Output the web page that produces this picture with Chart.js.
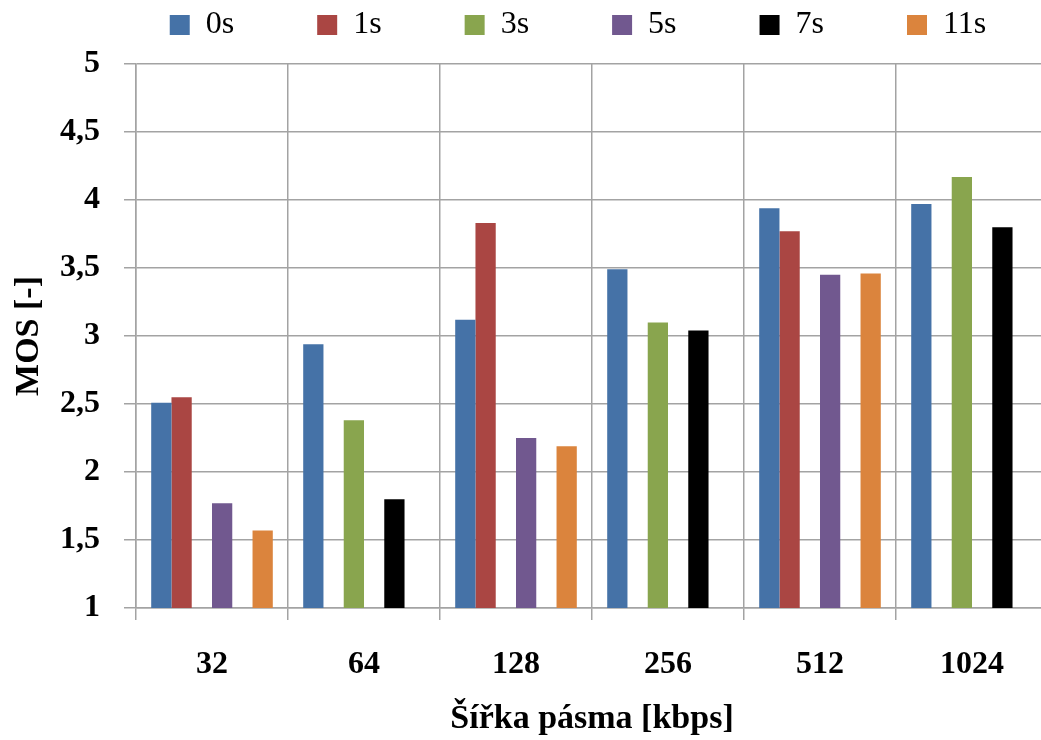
<!DOCTYPE html>
<html>
<head>
<meta charset="utf-8">
<script src="https://cdn.jsdelivr.net/npm/chart.js@4/dist/chart.umd.min.js"></script>
<style>
  html, body { margin: 0; padding: 0; background: #fff; overflow: hidden; }
  #wrap { width: 1100px; height: 740px; }
  canvas { display: block; }
</style>
</head>
<body>
<div id="wrap"><canvas id="c" width="1100" height="740"></canvas></div>
<script>
const categories = ['32', '64', '128', '256', '512', '1024'];
const seriesNames = ['0s', '1s', '3s', '5s', '7s', '11s'];
const s0s  = [2.51, 2.94, 3.12, 3.49, 3.94, 3.97];
const s1s  = [2.55, null, 3.83, null, 3.77, null];
const s3s  = [null, 2.38, null, 3.10, null, 4.17];
const s5s  = [1.77, null, 2.25, null, 3.45, null];
const s7s  = [null, 1.80, null, 3.04, null, 3.80];
const s11s = [1.57, null, 2.19, null, 3.46, null];
const colors = ['#4572A7', '#AA4643', '#89A54E', '#71588F', '#000000', '#DB843D'];
const yMin = 1, yMax = 5, yStep = 0.5;
const xTitle = 'Šířka pásma [kbps]';
const yTitle = 'MOS [-]';

const values = [s0s, s1s, s3s, s5s, s7s, s11s];
const datasets = seriesNames.map((n, i) => ({
  label: n,
  data: values[i],
  backgroundColor: colors[i],
  borderWidth: 0,
  categoryPercentage: 0.8,
  barPercentage: 1.0
}));

const FONT = "'Liberation Serif', 'Times New Roman', serif";
const gridColor = '#a3a3a3';

const legendShift = {
  id: 'legendShift',
  afterLayout(chart) {
    const lg = chart.legend;
    if (!lg) return;
    lg.left += 54;
    lg.right += 54;
    lg.top = -74;
    lg.bottom = 64;
    lg.height = lg.bottom - lg.top;
  }
};

new Chart(document.getElementById('c'), {
  type: 'bar',
  data: { labels: categories, datasets },
  plugins: [legendShift],
  options: {
    responsive: false,
    devicePixelRatio: 1,
    animation: false,
    layout: { padding: { left: 0, right: 52, top: 0, bottom: 0 } },
    plugins: {
      tooltip: { enabled: false },
      legend: {
        position: 'top',
        align: 'center',
        maxHeight: 64,
        labels: {
          boxWidth: 20,
          boxHeight: 20,
          padding: 83,
          color: '#000',
          font: { family: FONT, size: 32, weight: 'normal' }
        }
      }
    },
    scales: {
      x: {
        grid: { color: gridColor, lineWidth: 1.5, offset: true, tickLength: 12, drawTicks: true },
        border: { color: gridColor, width: 1.5 },
        ticks: { color: '#000', padding: 26, font: { family: FONT, size: 32, weight: 'bold' } },
        title: { display: true, text: xTitle, color: '#000', padding: { top: 0, bottom: 0 },
                 font: { family: FONT, size: 34, weight: 'bold', lineHeight: 1.2 } },
        afterFit(scale) { scale.height = 132; }
      },
      y: {
        min: yMin, max: yMax,
        grid: { color: gridColor, lineWidth: 1.5, tickLength: 12 },
        border: { color: gridColor, width: 1.5 },
        ticks: {
          stepSize: yStep, color: '#000', padding: 24,
          font: { family: FONT, size: 32, weight: 'bold' },
          callback: (v) => String(v).replace('.', ',')
        },
        title: { display: true, text: yTitle, color: '#000', padding: { top: 9, bottom: 0 },
                 font: { family: FONT, size: 34, weight: 'bold', lineHeight: 1.2 } },
        afterFit(scale) { scale.width = 136; }
      }
    }
  }
});
</script>
</body>
</html>
